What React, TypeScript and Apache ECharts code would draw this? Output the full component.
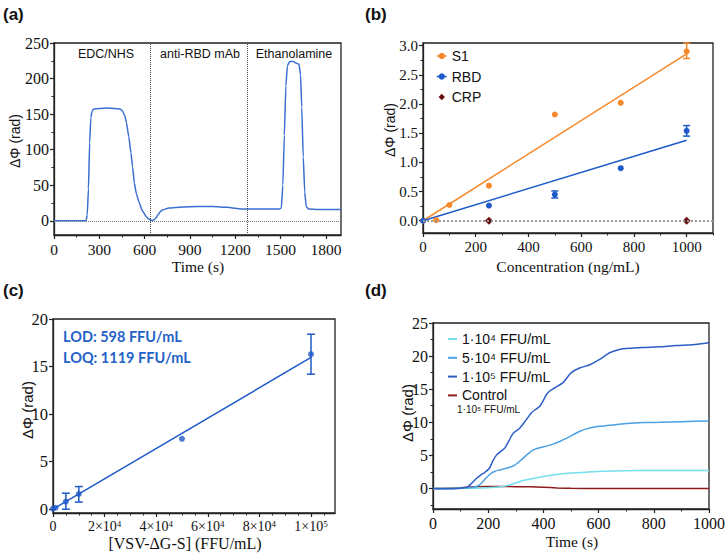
import React, { useEffect, useRef } from 'react';
import * as echarts from 'echarts';

const SERIF = "'Liberation Serif', 'Times New Roman', serif";
const SANS = "'Liberation Sans', Arial, sans-serif";
const AXIS = '#222';

// ---------- Panel (a) ----------
const aTime = [0, 200, 212, 220, 228, 236, 244, 252, 262, 300, 350, 400, 440, 455, 468, 480, 495, 510, 520, 532, 545, 565, 585, 610, 630, 648, 660, 675, 690, 705, 720, 760, 850, 950, 1050, 1150, 1200, 1250, 1300, 1400, 1490, 1505, 1515, 1525, 1535, 1545, 1560, 1585, 1600, 1622, 1632, 1640, 1650, 1660, 1670, 1685, 1750, 1900];
const aPhase = [0, 0, 0, 8, 45, 110, 145, 154, 157, 158, 158.5, 158, 157, 154, 148, 138, 118, 95, 76, 53, 38, 25, 14, 6, 2, 0.5, 1, 4, 9, 13, 15.5, 18, 19.5, 20, 20, 19, 17.5, 16.5, 16.5, 16.5, 16.5, 18, 50, 120, 190, 218, 224, 224, 222, 220, 205, 160, 90, 40, 20, 16.5, 16, 16];
const aStepTimes = [635, 1280];
const aXTicks = [0, 300, 600, 900, 1200, 1500, 1800];
const aXMinor = [150, 450, 750, 1050, 1350, 1650];
const aYTicks = [0, 50, 100, 150, 200, 250];
const aYMinor = [25, 75, 125, 175, 225];

// ---------- Panel (b) ----------
const bS1Conc = [0, 50, 100, 250, 500, 750, 1000];
const bS1Val = [0, 0.01, 0.27, 0.6, 1.82, 2.02, 2.9];
const bS1Err = [[1000, 2.78, 3.045]];
const bS1Fit = [[0, 0], [1000, 2.86]];
const bRbdConc = [0, 250, 500, 750, 1000];
const bRbdVal = [0, 0.26, 0.45, 0.9, 1.54];
const bRbdErr = [[500, 0.39, 0.51], [1000, 1.45, 1.63]];
const bRbdFit = [[0, 0], [1000, 1.38]];
const bCrpConc = [250, 1000];
const bCrpVal = [0, 0];
const bXTicks = [0, 200, 400, 600, 800, 1000];
const bXMinor = [100, 300, 500, 700, 900, 1100];
const bYTicks = [0, 0.5, 1, 1.5, 2, 2.5, 3];
const bYMinor = [0.25, 0.75, 1.25, 1.75, 2.25, 2.75];

// ---------- Panel (c) ----------
const cConc = [0, 1000, 5000, 10000, 50000, 100000];
const cVal = [0.05, 0.15, 0.8, 1.6, 7.4, 16.3];
const cErr = [[5000, 0.0, 1.68], [10000, 0.75, 2.38], [100000, 14.2, 18.4]];
const cFit = [[0, 0], [100000, 15.96]];
const cXTicks = [0, 20000, 40000, 60000, 80000, 100000];
const cXTickText = ['0', '{b|2×10}{s|4}', '{b|4×10}{s|4}', '{b|6×10}{s|4}', '{b|8×10}{s|4}', '{b|1×10}{s|5}'];
const cXMinor = [5000, 10000, 15000, 25000, 30000, 35000, 45000, 50000, 55000, 65000, 70000, 75000, 85000, 90000, 95000, 105000];
const cYTicks = [0, 5, 10, 15, 20];

// ---------- Panel (d) ----------
const d1e4T = [0, 50, 100, 150, 200, 230, 254, 285, 314, 350, 386, 420, 459, 500, 556, 620, 700, 800, 900, 1000];
const d1e4V = [0, 0, 0.05, 0.05, 0.1, 0.2, 0.3, 0.65, 1.06, 1.4, 1.7, 1.95, 2.17, 2.33, 2.47, 2.6, 2.68, 2.72, 2.73, 2.73];
const d5e4T = [0, 50, 100, 140, 157, 170, 181, 195, 211, 225, 241, 260, 278, 295, 308, 322, 338, 352, 368, 390, 411, 435, 459, 485, 507, 530, 556, 580, 604, 650, 700, 760, 821, 900, 1000];
const d5e4V = [0, 0, 0.05, 0.15, 0.3, 0.6, 1.06, 1.7, 2.3, 2.6, 2.8, 3.0, 3.2, 3.5, 3.9, 4.4, 5.0, 5.5, 5.9, 6.2, 6.4, 6.7, 7.1, 7.6, 8.1, 8.6, 9.0, 9.25, 9.4, 9.6, 9.8, 9.95, 10.0, 10.1, 10.2];
const d1e5T = [0, 50, 100, 124, 140, 157, 175, 187, 205, 215, 229, 245, 260, 275, 290, 314, 338, 356, 370, 386, 400, 411, 425, 441, 471, 501, 531, 568, 604, 640, 676, 720, 761, 820, 882, 940, 1000];
const d1e5V = [0, -0.05, 0.05, 0.2, 0.8, 1.5, 2.1, 2.4, 3.1, 4.0, 5.0, 5.6, 6.1, 7.2, 8.3, 9.1, 10.4, 11.4, 11.9, 12.4, 13.3, 14.2, 14.8, 15.2, 16.0, 17.5, 18.2, 18.7, 19.5, 20.5, 21.0, 21.2, 21.3, 21.4, 21.6, 21.7, 22.0];
const dCtrlT = [0, 50, 100, 150, 200, 250, 300, 350, 400, 450, 500, 600, 800, 1000];
const dCtrlV = [0, 0.02, 0.1, 0.25, 0.3, 0.3, 0.28, 0.25, 0.18, 0.08, 0.02, 0, 0, 0];
const dNames = ['1·10⁴ FFU/mL', '5·10⁴ FFU/mL', '1·10⁵ FFU/mL', 'Control'];
const dXTicks = [0, 200, 400, 600, 800, 1000];
const dXMinor = [100, 300, 500, 700, 900];
const dYTicks = [0, 5, 10, 15, 20, 25];
const dYMinor = [-2.5, 2.5, 7.5, 12.5, 17.5, 22.5];

const zip = (xs: number[], ys: number[]) => xs.map((x, i) => [x, ys[i]]);

// tick label text goes through rich text so the serif face is applied to each token
const rich = {
  t: { fontFamily: 'Liberation Serif', color: '#111' },
  b: { fontFamily: 'Liberation Serif', fontSize: 14, color: '#111' },
  s: { fontFamily: 'Liberation Serif', fontSize: 9, color: '#111', verticalAlign: 'top' },
};
const wrap = (s: string) => `{t|${s}}`;

function xMajor(grid: number, min: number, max: number, ticks: number[], fontSize: number, formatter: any) {
  return {
    type: 'value', gridIndex: grid, min, max, position: 'bottom',
    axisLine: { show: true, onZero: false, lineStyle: { color: AXIS, width: 1.3 } },
    axisTick: { show: true, length: 4, customValues: ticks, lineStyle: { color: AXIS, width: 1.2 } },
    axisLabel: { show: true, customValues: ticks, margin: 6, fontFamily: 'Liberation Serif', fontSize, color: '#111', formatter, rich: { ...rich, t: { ...rich.t, fontSize } } },
    splitLine: { show: false },
  };
}
function yMajor(grid: number, min: number, max: number, ticks: number[], fontSize: number, formatter: any) {
  return {
    type: 'value', gridIndex: grid, min, max, position: 'left',
    axisLine: { show: true, onZero: false, lineStyle: { color: AXIS, width: 1.3 } },
    axisTick: { show: true, length: 4, customValues: ticks, lineStyle: { color: AXIS, width: 1.2 } },
    axisLabel: { show: true, customValues: ticks, margin: 5, fontFamily: 'Liberation Serif', fontSize, color: '#111', formatter, rich: { ...rich, t: { ...rich.t, fontSize } } },
    splitLine: { show: false },
  };
}
function minor(grid: number, min: number, max: number, ticks: number[], position: string) {
  return {
    type: 'value', gridIndex: grid, min, max, position,
    axisLine: { show: false, onZero: false },
    axisTick: { show: true, length: 2.5, customValues: ticks, lineStyle: { color: AXIS, width: 1 } },
    axisLabel: { show: false },
    splitLine: { show: false },
  };
}

function errSeries(xi: number, data: number[][], color: string, half: number) {
  return {
    type: 'custom', xAxisIndex: xi, yAxisIndex: xi, data, z: 5,
    encode: { x: 0, y: [1, 2] },
    renderItem: (_p: any, api: any) => {
      const x = api.value(0);
      const lo = api.coord([x, api.value(1)]);
      const hi = api.coord([x, api.value(2)]);
      const st = { stroke: color, lineWidth: 1.5 };
      return {
        type: 'group',
        children: [
          { type: 'line', shape: { x1: lo[0], y1: lo[1], x2: hi[0], y2: hi[1] }, style: st },
          { type: 'line', shape: { x1: lo[0] - half, y1: lo[1], x2: lo[0] + half, y2: lo[1] }, style: st },
          { type: 'line', shape: { x1: hi[0] - half, y1: hi[1], x2: hi[0] + half, y2: hi[1] }, style: st },
        ],
      };
    },
  };
}

const gridBase = { show: true, borderColor: AXIS, borderWidth: 1.3, backgroundColor: 'transparent', containLabel: false, outerBoundsMode: 'none' };

const ORANGE = '#F7892C';
const BLUE = '#1E5AC8';
const CRP = '#6A0D0D';
const A_BLUE = '#3A6FD2';
const D_COLORS = ['#74E0EC', '#4BA1E4', '#2D5EC6', '#8E1B1B'];

function text(x: number, y: number, t: string, opts: any = {}) {
  return {
    type: 'text', x, y, rotation: opts.rotation || 0, silent: true,
    style: {
      text: t, fill: opts.fill || '#111', fontFamily: opts.fontFamily || SANS,
      fontSize: opts.fontSize || 14, fontWeight: opts.fontWeight || 'normal',
      align: opts.align || 'center', verticalAlign: 'middle',
    },
  };
}

const option: any = {
  animation: false,
  backgroundColor: '#fff',
  textStyle: { fontFamily: SERIF },
  grid: [
    { ...gridBase, left: 54, top: 43, width: 287, height: 192 },
    { ...gridBase, left: 423, top: 43, width: 290, height: 190 },
    { ...gridBase, left: 53, top: 319, width: 282, height: 194 },
    { ...gridBase, left: 433, top: 323, width: 276, height: 186 },
  ],
  xAxis: [
    xMajor(0, 0, 1900, aXTicks, 15.5, (v: number) => wrap(String(v))),
    xMajor(1, 0, 1100, bXTicks, 15, (v: number) => wrap(String(v))),
    xMajor(2, 0, 109300, cXTicks, 14, (v: number) => (v === 0 ? wrap('0') : cXTickText[cXTicks.indexOf(v)] ?? '')),
    xMajor(3, 0, 1000, dXTicks, 16, (v: number) => wrap(String(v))),
    minor(0, 0, 1900, aXMinor, 'bottom'),
    minor(1, 0, 1100, bXMinor, 'bottom'),
    minor(2, 0, 109300, cXMinor, 'bottom'),
    minor(3, 0, 1000, dXMinor, 'bottom'),
  ],
  yAxis: [
    yMajor(0, -20, 250, aYTicks, 16, (v: number) => wrap(String(v))),
    yMajor(1, -0.21, 3.045, bYTicks, 15, (v: number) => wrap(v.toFixed(1))),
    yMajor(2, -0.4, 20, cYTicks, 16.5, (v: number) => wrap(String(v))),
    yMajor(3, -3.1, 25, dYTicks, 16, (v: number) => wrap(String(v))),
    minor(0, -20, 250, aYMinor, 'left'),
    minor(1, -0.21, 3.045, bYMinor, 'left'),
    minor(2, -0.4, 20, [], 'left'),
    minor(3, -3.1, 25, dYMinor, 'left'),
  ],
  legend: [
    {
      orient: 'vertical', left: 431, top: 44, itemWidth: 10, itemHeight: 8, itemGap: 6.5,
      data: ['S1', 'RBD', { name: 'CRP', lineStyle: { opacity: 0, width: 0 } }],
      textStyle: { fontFamily: SANS, fontSize: 14, color: '#111' },
      lineStyle: { width: 1.5, opacity: 1 },
      selectedMode: false,
    },
    {
      orient: 'vertical', left: 443, top: 327, itemWidth: 9, itemHeight: 2, itemGap: 4.8, icon: 'rect',
      data: dNames,
      textStyle: { fontFamily: SANS, fontSize: 14, color: '#111' },
      selectedMode: false,
    },
  ],
  series: [
    // (a)
    {
      type: 'line', xAxisIndex: 0, yAxisIndex: 0, data: zip(aTime, aPhase), symbol: 'none',
      smooth: 0.15, smoothMonotone: 'x', lineStyle: { color: A_BLUE, width: 1.5 }, z: 3,
      markLine: {
        silent: true, symbol: ['none', 'none'], label: { show: false },
        data: [
          ...aStepTimes.map((t) => ({ xAxis: t, lineStyle: { color: '#444', type: 'dotted', width: 1 } })),
          { yAxis: 0, lineStyle: { color: '#777', type: 'dotted', width: 1 } },
        ],
      },
    },
    // (b)
    {
      type: 'line', name: 'S1fit', xAxisIndex: 1, yAxisIndex: 1, data: bS1Fit, symbol: 'none',
      lineStyle: { color: ORANGE, width: 1.5 }, z: 2,
      markLine: {
        silent: true, symbol: ['none', 'none'], label: { show: false },
        data: [{ yAxis: 0, lineStyle: { color: '#999', type: 'dotted', width: 2 } }],
      },
    },
    { type: 'line', name: 'RBDfit', xAxisIndex: 1, yAxisIndex: 1, data: bRbdFit, symbol: 'none', lineStyle: { color: BLUE, width: 1.5 }, z: 2 },
    {
      type: 'line', name: 'S1', xAxisIndex: 1, yAxisIndex: 1, data: zip(bS1Conc, bS1Val), color: ORANGE,
      symbol: 'circle', symbolSize: 6, showSymbol: true, itemStyle: { color: ORANGE },
      lineStyle: { color: ORANGE, width: 0, opacity: 0 }, z: 4,
    },
    {
      type: 'line', name: 'RBD', xAxisIndex: 1, yAxisIndex: 1, data: zip(bRbdConc, bRbdVal), color: BLUE,
      symbol: 'circle', symbolSize: 6, showSymbol: true, itemStyle: { color: BLUE },
      lineStyle: { color: BLUE, width: 0, opacity: 0 }, z: 4,
    },
    {
      type: 'line', name: 'CRP', xAxisIndex: 1, yAxisIndex: 1, data: zip(bCrpConc, bCrpVal), color: CRP,
      symbol: 'diamond', symbolSize: 8, showSymbol: true, itemStyle: { color: CRP },
      lineStyle: { color: CRP, width: 0, opacity: 0 }, z: 4,
    },
    errSeries(1, bS1Err, ORANGE, 3.5),
    errSeries(1, bRbdErr, BLUE, 3.5),
    // (c)
    { type: 'line', xAxisIndex: 2, yAxisIndex: 2, data: cFit, symbol: 'none', lineStyle: { color: BLUE, width: 1.5 }, z: 2 },
    { type: 'scatter', xAxisIndex: 2, yAxisIndex: 2, data: zip(cConc, cVal), symbol: 'circle', symbolSize: 6, itemStyle: { color: BLUE }, z: 4 },
    errSeries(2, cErr, BLUE, 4),
    // (d)
    { type: 'line', name: dNames[3], xAxisIndex: 3, yAxisIndex: 3, data: zip(dCtrlT, dCtrlV), symbol: 'none', smooth: 0.3, color: D_COLORS[3], lineStyle: { color: D_COLORS[3], width: 1.5 }, z: 2 },
    { type: 'line', name: dNames[0], xAxisIndex: 3, yAxisIndex: 3, data: zip(d1e4T, d1e4V), symbol: 'none', smooth: 0.3, color: D_COLORS[0], lineStyle: { color: D_COLORS[0], width: 1.5 }, z: 3 },
    { type: 'line', name: dNames[1], xAxisIndex: 3, yAxisIndex: 3, data: zip(d5e4T, d5e4V), symbol: 'none', smooth: 0.3, color: D_COLORS[1], lineStyle: { color: D_COLORS[1], width: 1.5 }, z: 3 },
    { type: 'line', name: dNames[2], xAxisIndex: 3, yAxisIndex: 3, data: zip(d1e5T, d1e5V), symbol: 'none', smooth: 0.3, color: D_COLORS[2], lineStyle: { color: D_COLORS[2], width: 1.5 }, z: 3 },
  ],
  graphic: [
    text(3, 14, '(a)', { fontSize: 17, fontWeight: 'bold', align: 'left' }),
    text(365, 14, '(b)', { fontSize: 17, fontWeight: 'bold', align: 'left' }),
    text(3, 290, '(c)', { fontSize: 17, fontWeight: 'bold', align: 'left' }),
    text(365, 290, '(d)', { fontSize: 17, fontWeight: 'bold', align: 'left' }),
    // panel (a) annotations
    text(106, 54, 'EDC/NHS', { fontSize: 12.5 }),
    text(200, 54, 'anti-RBD mAb', { fontSize: 12.5 }),
    text(294, 54, 'Ethanolamine', { fontSize: 12.5 }),
    // axis titles
    text(198, 266, 'Time (s)', { fontFamily: SERIF, fontSize: 15.5 }),
    text(568, 266, 'Concentration (ng/mL)', { fontFamily: SERIF, fontSize: 15.5 }),
    text(185, 543, '[VSV-ΔG-S] (FFU/mL)', { fontFamily: SERIF, fontSize: 16 }),
    text(572, 541, 'Time (s)', { fontFamily: SERIF, fontSize: 15.5 }),
    text(15, 141, 'ΔΦ (rad)', { fontSize: 14, rotation: Math.PI / 2 }),
    text(390, 130, 'ΔΦ (rad)', { fontSize: 14, rotation: Math.PI / 2 }),
    text(27, 410, 'ΔΦ (rad)', { fontSize: 15, rotation: Math.PI / 2 }),
    text(407, 413, 'ΔΦ (rad)', { fontSize: 15, rotation: Math.PI / 2 }),
    // panel (c) annotations
    text(63, 336, 'LOD: 598 FFU/mL', { fontFamily: "Lato, 'Open Sans', sans-serif", fontWeight: 'bold', fontSize: 14.5, fill: '#2462C8', align: 'left' }),
    text(63, 357, 'LOQ: 1119 FFU/mL', { fontFamily: "Lato, 'Open Sans', sans-serif", fontWeight: 'bold', fontSize: 14.5, fill: '#2462C8', align: 'left' }),
    // panel (d) legend sub-label
    text(457, 409, '1·10⁵ FFU/mL', { fontSize: 10, align: 'left' }),
  ],
};

export default function App() {
  const ref = useRef<HTMLDivElement>(null);
  useEffect(() => {
    const chart = echarts.init(ref.current!, null, { renderer: 'svg', width: 727, height: 555 });
    chart.setOption(option);
    return () => chart.dispose();
  }, []);
  return <div ref={ref} style={{ position: 'absolute', left: 0, top: 0, width: 727, height: 555, background: '#fff' }} />;
}
